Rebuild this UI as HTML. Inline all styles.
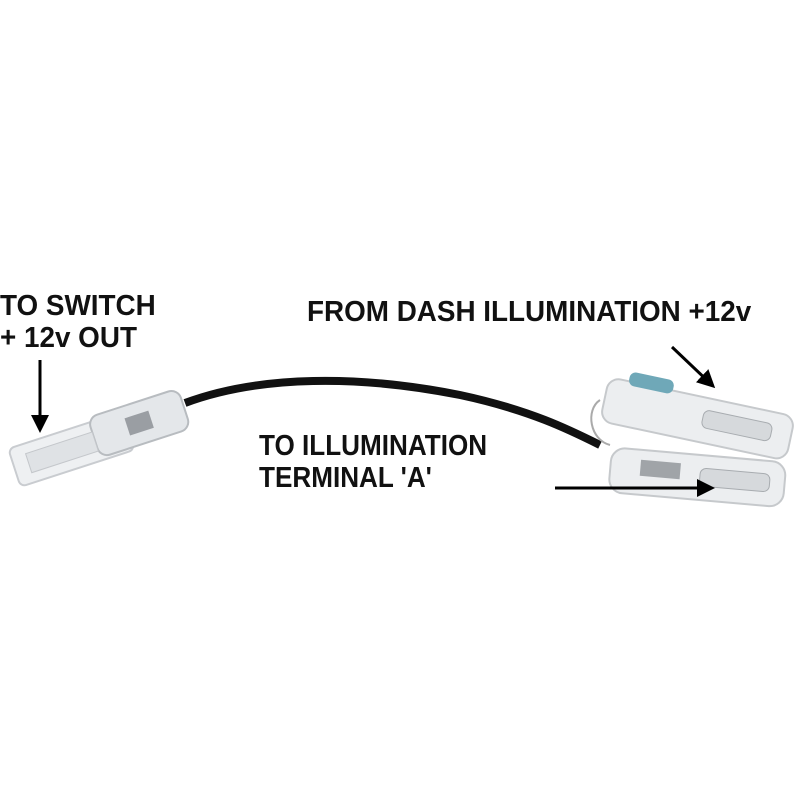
<!DOCTYPE html>
<html><head><style>
body{margin:0;width:800px;height:800px;background:#fff;overflow:hidden;position:relative}
.t{position:absolute;font-family:"Liberation Sans",sans-serif;font-weight:bold;font-size:29px;line-height:32px;color:#111;white-space:nowrap;transform:scaleX(0.9);transform-origin:0 0}
</style></head><body>
<svg width="800" height="800" style="position:absolute;left:0;top:0">
<defs><marker id="a" markerWidth="6" markerHeight="6" refX="5" refY="3" orient="auto"><path d="M0,0 L6,3 L0,6 z" fill="#000"/></marker></defs>
<path d="M185,403 C260,375 360,375 460,395 C530,410 570,430 600,445" stroke="#111" stroke-width="8" fill="none"/>
<g transform="rotate(-18 100 440)">
<rect x="10" y="420" width="120" height="40" rx="6" fill="#eef0f2" stroke="#c9ccd0" stroke-width="2"/>
<rect x="95" y="415" width="95" height="42" rx="10" fill="#e4e7ea" stroke="#b8bcc0" stroke-width="2"/>
<rect x="25" y="430" width="70" height="20" fill="#dfe2e5" stroke="#c4c7cb"/>
<rect x="130" y="427" width="25" height="18" fill="#9a9ea3"/>
</g>
<path d="M600,400 C585,410 590,440 610,445" stroke="#aaa" stroke-width="2" fill="none"/>
<g transform="rotate(12 690 430)">
<rect x="600" y="395" width="190" height="45" rx="12" fill="#eceef0" stroke="#c6c9cc" stroke-width="2"/>
<rect x="620" y="385" width="45" height="14" rx="6" fill="#6fa8b8"/>
<rect x="700" y="407" width="70" height="18" rx="6" fill="#d6d9dc" stroke="#a8acb0"/>
</g>
<g transform="rotate(5 700 475)">
<rect x="610" y="455" width="175" height="45" rx="14" fill="#eceef0" stroke="#c6c9cc" stroke-width="2"/>
<rect x="640" y="465" width="40" height="16" fill="#a0a4a8"/>
<rect x="700" y="468" width="70" height="18" rx="6" fill="#d6d9dc" stroke="#a8acb0"/>
</g>
<line x1="40" y1="360" x2="40" y2="430" stroke="#000" stroke-width="3" marker-end="url(#a)"/>
<line x1="672" y1="347" x2="713" y2="386" stroke="#000" stroke-width="3" marker-end="url(#a)"/>
<line x1="555" y1="488" x2="712" y2="488" stroke="#000" stroke-width="3" marker-end="url(#a)"/>
</svg>
<div class="t" style="left:0;top:290px;transform:scaleX(0.96)">TO SWITCH<br>+ 12v OUT</div>
<div class="t" style="left:307px;top:296px;transform:scaleX(0.96)">FROM DASH ILLUMINATION +12v</div>
<div class="t" style="left:259px;top:430px">TO ILLUMINATION<br>TERMINAL 'A'</div>
</body></html>
